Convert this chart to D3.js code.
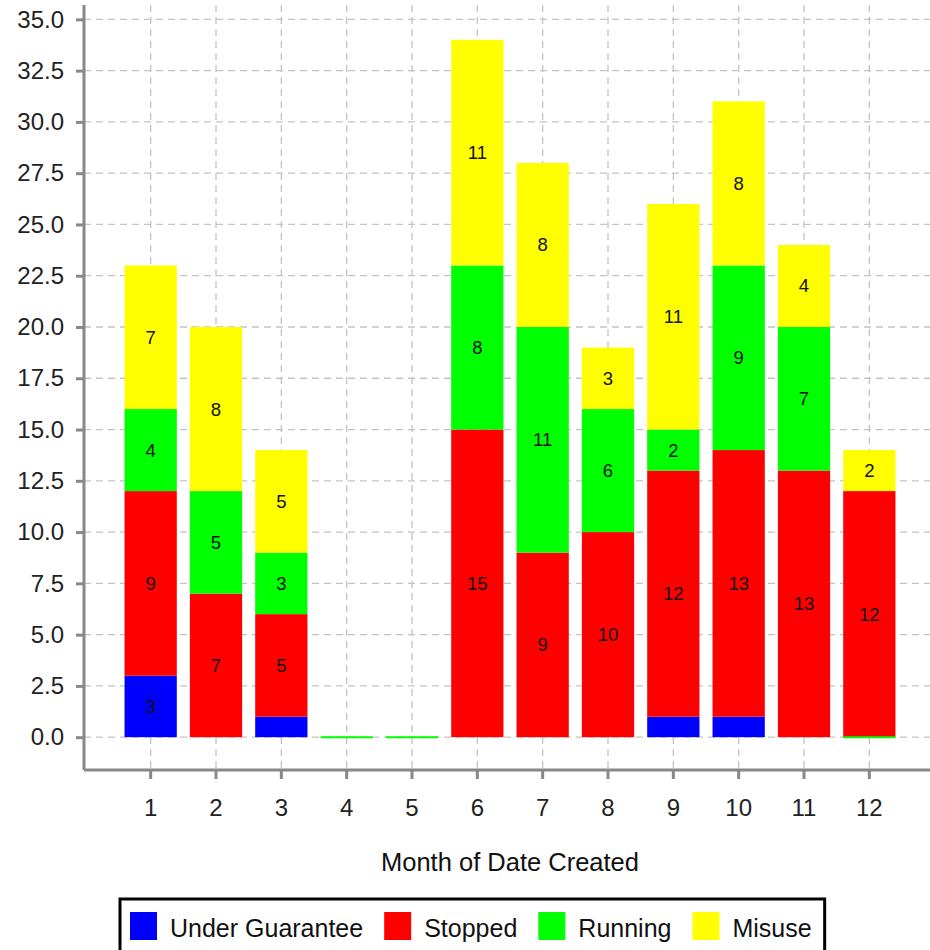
<!DOCTYPE html>
<html>
<head>
<meta charset="utf-8">
<script src="https://cdn.jsdelivr.net/npm/d3@7"></script>
<style>
  body { margin: 0; background: #fff; }
  text { font-family: "Liberation Sans", Arial, sans-serif; }
</style>
</head>
<body>
<div id="container"></div>
<script>
let w = 930;
let h = 950;

// data (null = no record, 0 = record with zero count)
let months = ["1", "2", "3", "4", "5", "6", "7", "8", "9", "10", "11", "12"];
let underGuarantee = [3, null, 1, null, null, null, null, null, 1, 1, null, null];
let stopped = [9, 7, 5, null, null, 15, 9, 10, 12, 13, 13, 12];
let running = [4, 5, 3, 0, 0, 8, 11, 6, 2, 9, 7, 0];
let misuse = [7, 8, 5, null, null, 11, 8, 3, 11, 8, 4, 2];
let yTicks = [0, 2.5, 5, 7.5, 10, 12.5, 15, 17.5, 20, 22.5, 25, 27.5, 30, 32.5, 35];

let seriesNames = ["Under Guarantee", "Stopped", "Running", "Misuse"];
let seriesValues = [underGuarantee, stopped, running, misuse];
let seriesColors = ["#0000ff", "#ff0000", "#00ff00", "#ffff00"];

let tableData = months.map(function(m, i) {
  let row = {month: m};
  seriesNames.forEach(function(s, j) { row[s] = seriesValues[j][i]; });
  return row;
});

let viz = d3.select("#container")
  .append("svg")
    .attr("width", w)
    .attr("height", h)
;

let xScale = d3.scaleBand().domain(months).range([118, 902]).paddingInner(0.2).paddingOuter(0.1);
let yScale = d3.scaleLinear().domain([-1.6, 35.7]).range([770, 5]);

let axisLeftX = 84;
let axisBottomY = 770;

// grid
let grid = viz.append("g").attr("class", "grid");
grid.selectAll(".hgrid").data(yTicks).enter()
  .append("line")
    .attr("x1", axisLeftX).attr("x2", w)
    .attr("y1", function(d){ return yScale(d); })
    .attr("y2", function(d){ return yScale(d); })
    .attr("stroke", "#c4c4c4").attr("stroke-width", 1.3)
    .attr("stroke-dasharray", "7,5")
;
grid.selectAll(".vgrid").data(months).enter()
  .append("line")
    .attr("x1", function(d){ return xScale(d) + xScale.bandwidth() / 2; })
    .attr("x2", function(d){ return xScale(d) + xScale.bandwidth() / 2; })
    .attr("y1", 5).attr("y2", axisBottomY)
    .attr("stroke", "#c4c4c4").attr("stroke-width", 1.3)
    .attr("stroke-dasharray", "7,5")
;

// stacked bars
let stack = d3.stack()
  .keys(seriesNames)
  .value(function(d, key){ return d[key] || 0; });
let stacked = stack(tableData);

let barGroup = viz.append("g").attr("class", "bars");
stacked.forEach(function(layer, j) {
  let segs = layer.map(function(seg, i) {
    return {y0: seg[0], y1: seg[1], value: tableData[i][layer.key], month: months[i]};
  });
  // real segments
  barGroup.selectAll(".bar" + j).data(segs.filter(function(d){ return d.value > 0; })).enter()
    .append("rect")
      .attr("x", function(d){ return xScale(d.month); })
      .attr("width", xScale.bandwidth())
      .attr("y", function(d){ return yScale(d.y1); })
      .attr("height", function(d){ return yScale(d.y0) - yScale(d.y1); })
      .attr("fill", seriesColors[j])
  ;
  // zero-count records drawn as thin line on baseline
  barGroup.selectAll(".zero" + j).data(segs.filter(function(d){ return d.value === 0; })).enter()
    .append("line")
      .attr("x1", function(d){ return xScale(d.month); })
      .attr("x2", function(d){ return xScale(d.month) + xScale.bandwidth(); })
      .attr("y1", yScale(0)).attr("y2", yScale(0))
      .attr("stroke", seriesColors[j]).attr("stroke-width", 2)
  ;
  // labels
  barGroup.selectAll(".label" + j).data(segs.filter(function(d){ return d.value >= 2; })).enter()
    .append("text")
      .text(function(d){ return d.value; })
      .attr("x", function(d){ return xScale(d.month) + xScale.bandwidth() / 2; })
      .attr("y", function(d){ return (yScale(d.y0) + yScale(d.y1)) / 2 + 6.5; })
      .attr("text-anchor", "middle")
      .attr("font-size", "18.5px")
      .attr("fill", "#111")
  ;
});

// axes
let yAxis = d3.axisLeft(yScale).tickValues(yTicks).tickFormat(d3.format(".1f")).tickSize(8).tickPadding(12);
let yAxisGroup = viz.append("g").attr("class", "yaxis")
  .attr("transform", "translate(" + axisLeftX + ", 0)")
  .call(yAxis);

let xAxis = d3.axisBottom(xScale).tickSize(9).tickPadding(20);
let xAxisGroup = viz.append("g").attr("class", "xaxis")
  .attr("transform", "translate(0, " + axisBottomY + ")")
  .call(xAxis);

viz.selectAll(".yaxis .domain, .xaxis .domain").remove();
viz.selectAll(".yaxis line, .xaxis line").attr("stroke", "#888").attr("stroke-width", 3);
viz.selectAll(".yaxis text, .xaxis text")
  .attr("font-size", "24px")
  .attr("font-family", "Liberation Sans, Arial, sans-serif")
  .attr("fill", "#222");

viz.append("line")
  .attr("x1", axisLeftX).attr("x2", axisLeftX)
  .attr("y1", 5).attr("y2", axisBottomY)
  .attr("stroke", "#888").attr("stroke-width", 3);
viz.append("line")
  .attr("x1", axisLeftX).attr("x2", w)
  .attr("y1", axisBottomY).attr("y2", axisBottomY)
  .attr("stroke", "#888").attr("stroke-width", 3);

// axis title
viz.append("text")
  .text("Month of Date Created")
  .attr("x", 510)
  .attr("y", 871)
  .attr("text-anchor", "middle")
  .attr("font-size", "25.5px")
  .attr("fill", "#111");

// legend
let legend = viz.append("g").attr("class", "legend");
let legendBox = legend.append("rect")
  .attr("x", 120).attr("y", 899)
  .attr("height", 70)
  .attr("fill", "#fff")
  .attr("stroke", "#000").attr("stroke-width", 3);

let lx = 130;
seriesNames.forEach(function(name, j) {
  legend.append("rect")
    .attr("x", lx).attr("y", 912)
    .attr("width", 27).attr("height", 28)
    .attr("fill", seriesColors[j]);
  let t = legend.append("text")
    .text(name)
    .attr("x", lx + 40)
    .attr("y", 937)
    .attr("font-size", "25px")
    .attr("fill", "#111");
  lx = lx + 40 + t.node().getComputedTextLength() + 21;
});
legendBox.attr("width", lx - 21 + 13 - 120);
</script>
</body>
</html>
